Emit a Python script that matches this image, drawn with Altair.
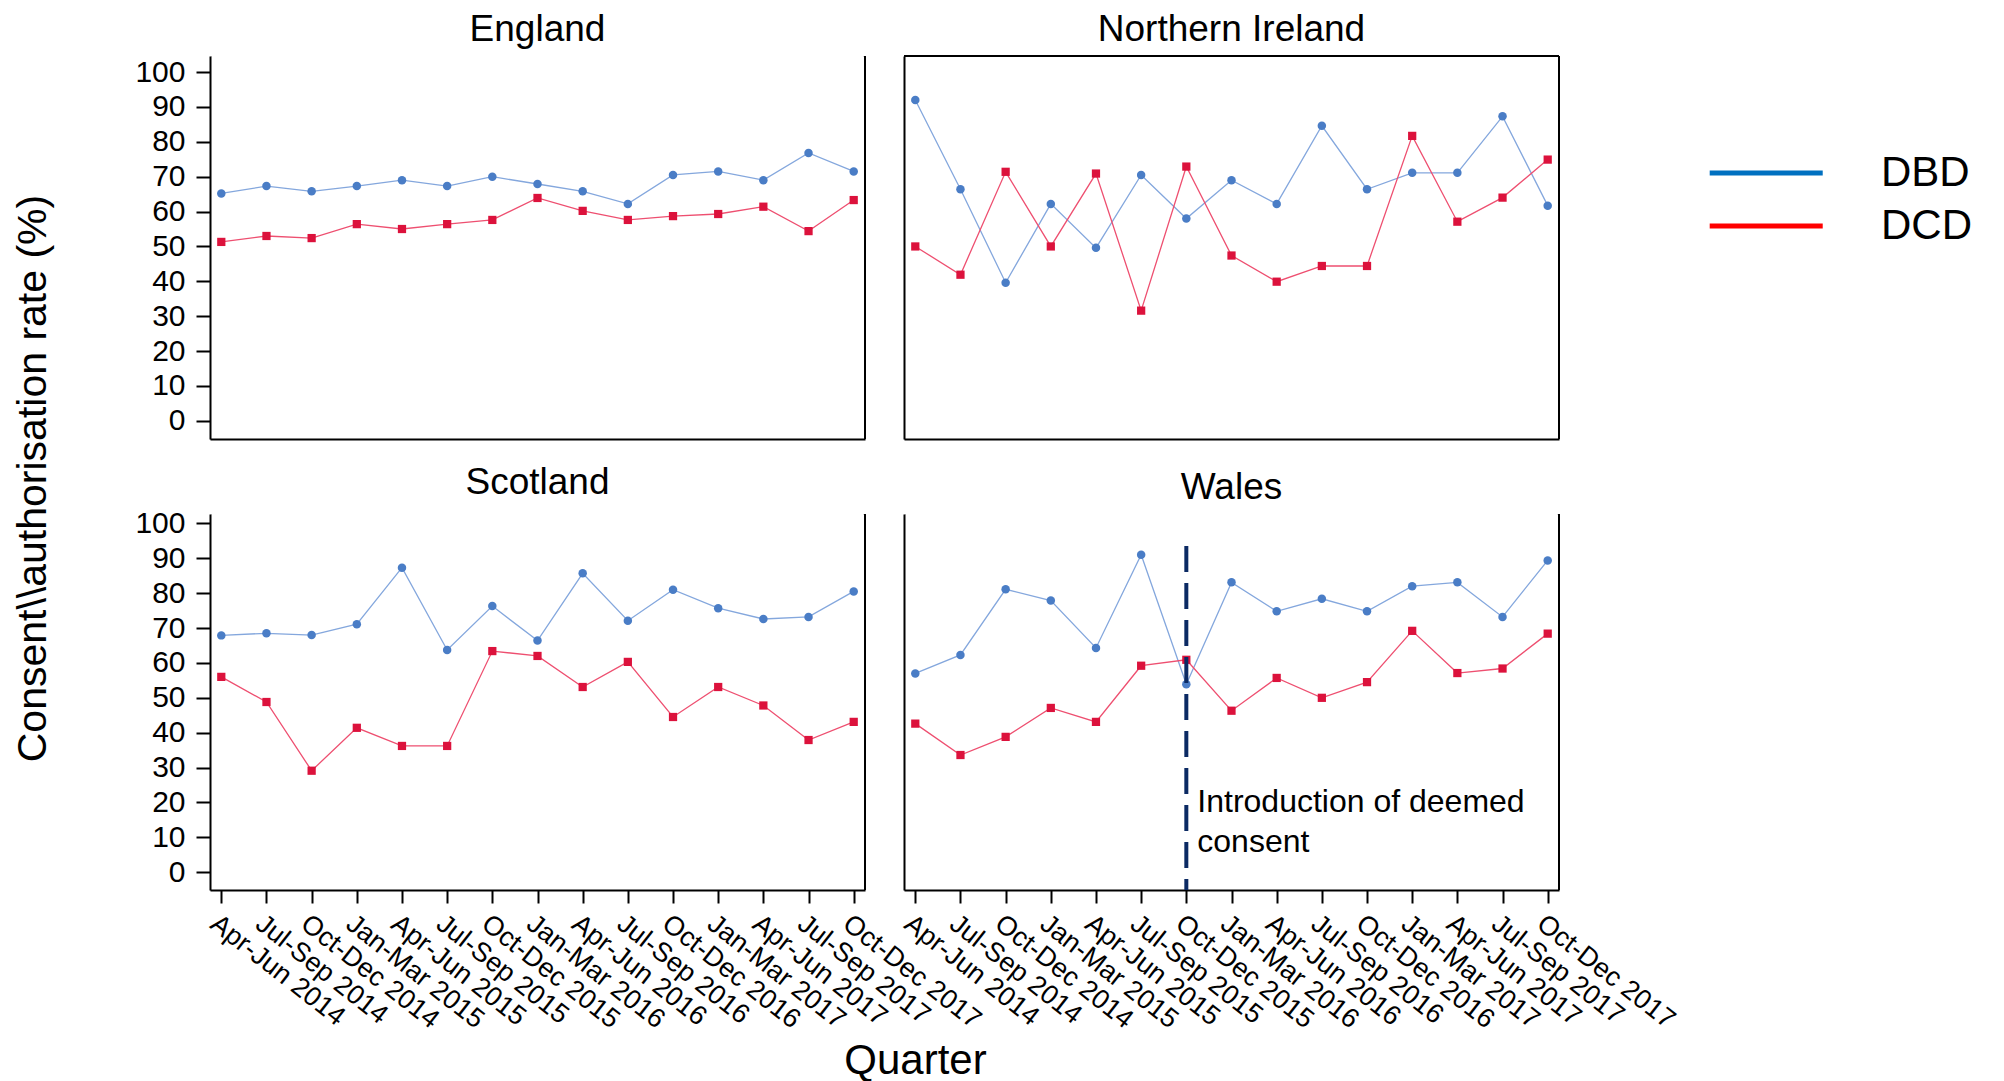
import altair as alt
import pandas as pd

quarters = ["Apr-Jun 2014", "Jul-Sep 2014", "Oct-Dec 2014", "Jan-Mar 2015", "Apr-Jun 2015",
            "Jul-Sep 2015", "Oct-Dec 2015", "Jan-Mar 2016", "Apr-Jun 2016", "Jul-Sep 2016",
            "Oct-Dec 2016", "Jan-Mar 2017", "Apr-Jun 2017", "Jul-Sep 2017", "Oct-Dec 2017"]
series_names = ["DBD", "DCD"]

england_dbd = [65.2, 67.3, 65.8, 67.3, 69.0, 67.3, 70.0, 67.9, 65.8, 62.2, 70.5, 71.5, 69.0, 76.8, 71.5]
england_dcd = [51.3, 53.0, 52.4, 56.4, 55.0, 56.4, 57.6, 63.9, 60.2, 57.6, 58.7, 59.3, 61.4, 54.4, 63.3]
ni_dbd = [92.0, 66.4, 39.6, 62.2, 49.6, 70.5, 58.0, 69.0, 62.2, 84.6, 66.4, 71.1, 71.1, 87.3, 61.7]
ni_dcd = [50.0, 41.9, 71.4, 50.0, 70.9, 31.6, 72.9, 47.4, 39.9, 44.4, 44.4, 81.7, 57.1, 64.0, 74.9]
scotland_dbd = [67.9, 68.5, 68.0, 71.1, 87.3, 63.7, 76.3, 66.4, 85.7, 72.1, 81.0, 75.7, 72.6, 73.2, 80.5]
scotland_dcd = [56.0, 48.8, 29.1, 41.4, 36.2, 36.2, 63.4, 62.0, 53.1, 60.3, 44.5, 53.1, 47.8, 37.9, 43.1]
wales_dbd = [57.0, 62.3, 81.1, 77.9, 64.3, 91.0, 53.9, 83.1, 74.8, 78.4, 74.8, 82.0, 83.1, 73.2, 89.4]
wales_dcd = [42.6, 33.6, 38.8, 47.1, 43.1, 59.2, 60.9, 46.3, 55.7, 50.0, 54.5, 69.2, 57.1, 58.4, 68.4]

annotation_quarter = "Oct-Dec 2015"
annotation_text = "Introduction of deemed\nconsent"
annotation_line_top = 93.5
annotation_text_y = 17.2

rows = []
for region, dbd, dcd in [("England", england_dbd, england_dcd),
                         ("Northern Ireland", ni_dbd, ni_dcd),
                         ("Scotland", scotland_dbd, scotland_dcd),
                         ("Wales", wales_dbd, wales_dcd)]:
    for q, v in zip(quarters, dbd):
        rows.append({"region": region, "quarter": q, "series": "DBD", "value": v})
    for q, v in zip(quarters, dcd):
        rows.append({"region": region, "quarter": q, "series": "DCD", "value": v})
df = pd.DataFrame(rows)

FONT = "Liberation Sans"
W = 655
H_TOP = 383
H_BOT = 376

line_colors = ["#84A7DD", "#EE4F70"]
marker_colors = ["#4A7DC6", "#DC123C"]
legend_colors = ["#0070C0", "#FF0000"]


def panel(region, row, col):
    H = H_TOP if row == 0 else H_BOT
    ydom = [-5.2, 104.6] if row == 0 else [-5.1, 102.7]
    if row == 0:
        x_axis = alt.Axis(labels=False, ticks=False, domain=True, title=None, grid=False,
                          domainColor="black", domainWidth=2)
    else:
        x_axis = alt.Axis(values=quarters, labels=True, ticks=True, domain=True, grid=False,
                          labelAngle=38, labelAlign="left", labelBaseline="top",
                          labelFontSize=27, labelFont=FONT, labelColor="black",
                          labelPadding=7, tickSize=13, tickWidth=2, tickColor="black",
                          domainColor="black", domainWidth=2, labelOverlap=False,
                          title="Quarter" if col == 0 else None,
                          titleX=705, titleY=170, titleFontSize=42, titleFont=FONT,
                          titleFontWeight="normal", titleColor="black",
                          titleBaseline="middle", titleAlign="center")
    if col == 0:
        y_axis = alt.Axis(values=list(range(0, 101, 10)), grid=False, domainColor="black",
                          domainWidth=2, tickSize=14, tickWidth=2, tickColor="black",
                          labelFontSize=30, labelFont=FONT, labelColor="black", labelPadding=11,
                          title="Consent\\\\authorisation rate (%)" if row == 0 else None,
                          titleX=-177, titleY=422, titleAngle=270, titleAlign="center",
                          titleBaseline="middle", titleFontSize=41, titleFont=FONT,
                          titleFontWeight="normal", titleColor="black")
    else:
        y_axis = alt.Axis(labels=False, ticks=False, grid=False, domain=True, title=None,
                          domainColor="black", domainWidth=2)

    xscale = alt.Scale(type="point", domain=quarters, padding=0.25)
    yscale = alt.Scale(domain=ydom, nice=False, zero=False)
    x = alt.X("quarter:O", sort=quarters, scale=xscale, axis=x_axis)
    y = alt.Y("value:Q", scale=yscale, axis=y_axis)

    base = alt.Chart(df).transform_filter(alt.datum.region == region)
    lines = base.mark_line(strokeWidth=1.3).encode(
        x=x, y=y,
        stroke=alt.Stroke("series:N", scale=alt.Scale(range=line_colors), legend=None))
    pts = base.mark_point(filled=True, opacity=1, strokeWidth=0).encode(
        x=x, y=y,
        fill=alt.Fill("series:N", scale=alt.Scale(range=marker_colors), legend=None),
        shape=alt.Shape("series:N", scale=alt.Scale(range=["circle", "square"]), legend=None),
        size=alt.Size("series:N", scale=alt.Scale(range=[72, 68]), legend=None))
    one = pd.DataFrame({"edge": [0]})
    edge = alt.Chart(one).mark_rule(color="black", strokeWidth=2).encode(
        x=alt.value(W), y=alt.value(0), y2=alt.value(H))
    layers = [lines, pts, edge]
    if region == "Northern Ireland":
        top = alt.Chart(one).mark_rule(color="black", strokeWidth=2).encode(
            x=alt.value(0), x2=alt.value(W), y=alt.value(0))
        layers.append(top)
        leg = base.mark_line(opacity=0).encode(
            x=x, y=y,
            color=alt.Color("series:N", scale=alt.Scale(domain=series_names, range=legend_colors),
                            legend=alt.Legend(title=None, orient="none", legendX=1490, legendY=96,
                                              symbolType="M-1,0H9", symbolSize=511,
                                              symbolStrokeWidth=5, symbolOpacity=1,
                                              symbolFillColor="transparent",
                                              labelFontSize=42, labelFont=FONT,
                                              labelColor="black", labelOffset=139,
                                              rowPadding=11)))
        layers.append(leg)
    else:
        # the panel has no top border: keep the top edge clean
        clean = alt.Chart(one).mark_rule(color="white", strokeWidth=3).encode(
            x=alt.value(2), x2=alt.value(W - 2), y=alt.value(0))
        layers.append(clean)
    if region == "Wales":
        ann = pd.DataFrame({"quarter": [annotation_quarter], "top": [annotation_line_top],
                            "ty": [annotation_text_y], "label": [annotation_text]})
        rule = alt.Chart(ann).mark_rule(color="#0B2A63", strokeWidth=4, strokeDash=[26, 11]).encode(
            x=alt.X("quarter:O", sort=quarters, scale=xscale, axis=x_axis),
            y=alt.Y("top:Q", scale=yscale, axis=y_axis),
            y2=alt.value(H))
        txt = alt.Chart(ann).mark_text(align="left", baseline="alphabetic", dx=11, fontSize=32,
                                       font=FONT, color="black", lineBreak="\n",
                                       lineHeight=40).encode(
            x=alt.X("quarter:O", sort=quarters, scale=xscale, axis=x_axis),
            y=alt.Y("ty:Q", scale=yscale, axis=y_axis),
            text="label:N")
        layers += [rule, txt]
    return alt.layer(*layers).properties(
        width=W, height=H,
        title=alt.TitleParams(text=region, fontSize=37, font=FONT, fontWeight="normal",
                              color="black", anchor="middle", offset=6))


chart = alt.concat(panel("England", 0, 0), panel("Northern Ireland", 0, 1),
                   panel("Scotland", 1, 0), panel("Wales", 1, 1),
                   columns=2, spacing={"row": 75, "column": 39}, bounds="flush"
                   ).properties(padding={"left": 3, "top": 2, "right": 5, "bottom": 5}
                   ).configure_view(stroke=None, strokeWidth=0
                   ).configure_axis(grid=False, gridOpacity=0
                   ).configure(font=FONT)

chart.save("out.html", embed_options={"renderer": "svg", "actions": False})
